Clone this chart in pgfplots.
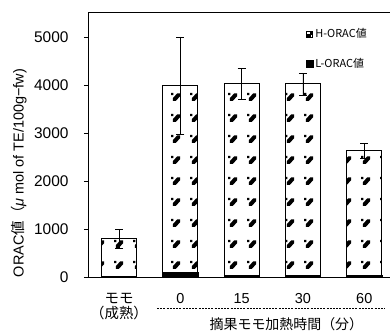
\documentclass[border=0pt]{standalone}
\usepackage{fontspec}
\setmainfont{Liberation Sans}
\newfontfamily\jp{Noto Sans CJK JP}
\usepackage{pgfplots}
\pgfplotsset{compat=1.18}
\usetikzlibrary{patterns.meta}

\tikzdeclarepattern{
  name=peach, type=uncolored,
  bounding box={(0bp,0bp) and (19bp,21bp)},
  tile size={(19bp,21bp)},
  code={
    \fill (0bp,6bp) rectangle (2.5bp,8.5bp);
    \fill (2bp,0bp) -- (5bp,0bp) -- (9.5bp,5bp) -- (9.5bp,8bp) -- (6.5bp,8bp) -- (2bp,3bp) -- cycle;
  }
}

\begin{document}
\begin{tikzpicture}
\useasboundingbox (0,0) rectangle (390bp,332bp);
\begin{axis}[
  at={(88bp,54.7bp)}, anchor=south west,
  scale only axis, width=302bp, height=265.3bp,
  xmin=-0.506, xmax=4.42, ymin=0, ymax=5527,
  axis lines=left, axis line style={-, line width=0.8bp},
  x axis line style={line width=1.2bp},
  ytick={0,1000,2000,3000,4000,5000}, ytick pos=left,
  tick align=outside, major tick length=4bp,
  ytick style={black, line width=0.7bp},
  xtick={0,1,2,3,4},
  xticklabels={{{\jp モモ}\\{\jp （成熟）}},0,15,30,60},
  xticklabel style={align=center, yshift=-8.5bp, font=\fontsize{14.5}{15}\selectfont},
  yticklabel style={font=\fontsize{15.5}{16}\selectfont, xshift=-12bp},
  xtick style={draw=none},
  /pgf/number format/assume math mode=true,
  /pgf/number format/1000 sep={},
  clip=false,
  legend style={at={(rel axis cs:0.722,0.945)}, anchor=north west,
    draw=none, fill=none, font=\jp\fontsize{11}{13}\selectfont,
    row sep=15bp, inner sep=0pt, cells={anchor=west},
    /tikz/every even column/.append style={column sep=1bp}},
  legend cell align=left,
]
\addplot[ybar, bar shift=0pt, bar width=35bp, draw=black, line width=0.8bp,
  pattern=peach, pattern color=black, forget plot,
  error bars/.cd, y dir=both, y explicit,
  error bar style={black, line width=0.6bp},
  error mark options={black, mark size=4bp, line width=0.6bp, rotate=90}]
coordinates {(0,800) +- (0,200) (1,3990) +- (0,1020) (2,4030) +- (0,320) (3,4030) +- (0,230) (4,2640) +- (0,155)};
\addplot[ybar, bar shift=0pt, bar width=35bp, fill=black, draw=black, line width=0.5bp, forget plot]
coordinates {(0,15) (1,100) (2,40) (3,35) (4,35)};

\addlegendimage{legend image code/.code={
  \draw[black, line width=0.9bp, fill=white] (0.5bp,-3bp) rectangle (6.5bp,3bp);
  \fill[black] (0.5bp,-3bp) -- (4bp,-3bp) -- (4bp,0bp) -- (0.5bp,0bp) -- cycle;
  \fill[black] (4bp,0bp) rectangle (6.5bp,3bp);}}
\addlegendentry{H-ORAC値}
\addlegendimage{legend image code/.code={
  \fill[black] (0.5bp,-3.3bp) rectangle (7bp,3.3bp);}}
\addlegendentry{L-ORAC値}

\draw[line width=0.8bp] (rel axis cs:0,1) -- (rel axis cs:1,1);
\draw[dash pattern=on 2bp off 1.2bp, line width=0.7bp]
  ([yshift=-31bp]axis cs:0.62,0) -- ([yshift=-31bp]axis cs:4.33,0);
\node[font=\jp\fontsize{14}{16}\selectfont] at ([yshift=-46.5bp]axis cs:2.73,0) {摘果モモ加熱時間（分）};
\node[rotate=90, font=\fontsize{14.5}{16}\selectfont] at ([xshift=-69bp]axis cs:-0.506,2173)
  {ORAC{\jp 値（}\textit{μ} mol of TE/100g−fw)};
\end{axis}
\end{tikzpicture}
\end{document}
